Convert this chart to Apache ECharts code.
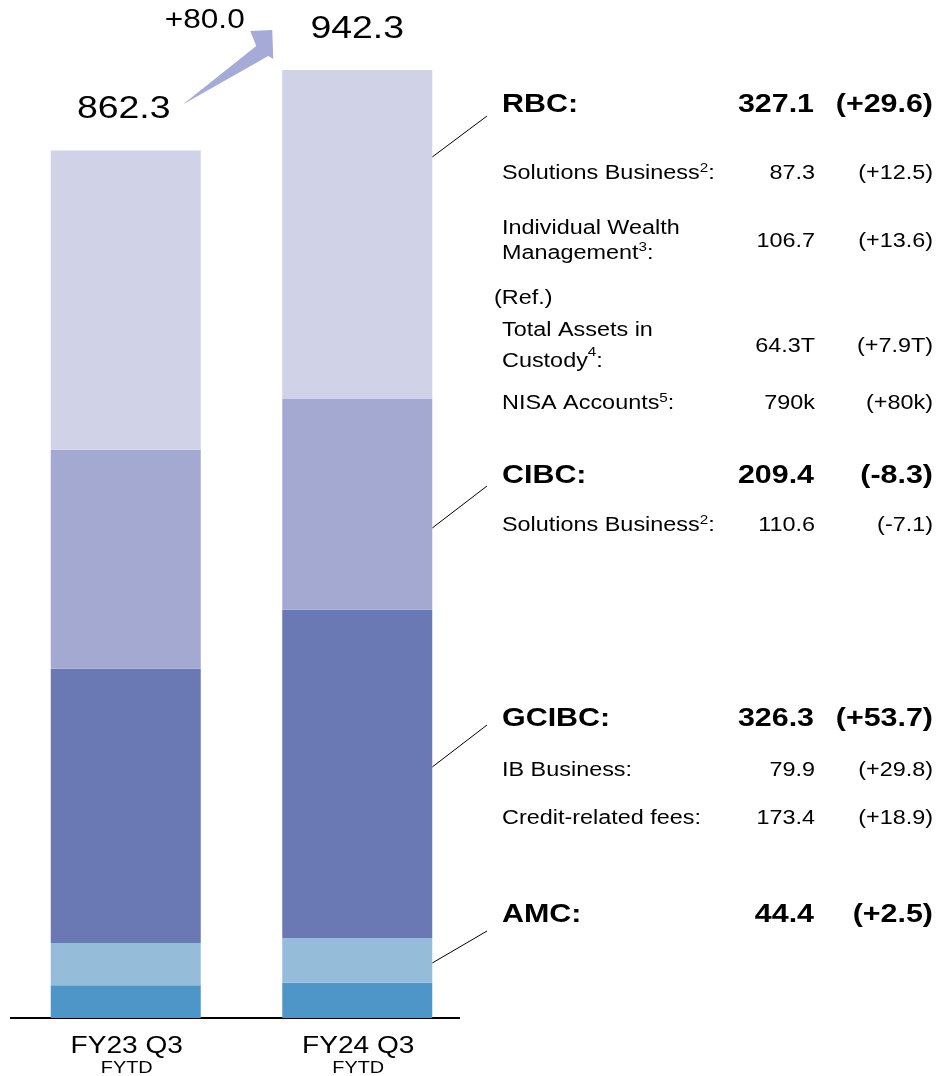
<!DOCTYPE html>
<html><head><meta charset="utf-8">
<script src="https://cdn.jsdelivr.net/npm/echarts@6/dist/echarts.min.js"></script>
<style>html,body{margin:0;padding:0;background:#fff}#c{width:936px;height:1076px}</style>
</head><body><div id="c"></div>
<script>
// ---- data ----
const categories = ['FY23 Q3', 'FY24 Q3'];
const categorySub = ['FYTD', 'FYTD'];
const otherVals = [32.6, 35.1];
const amcVals = [41.9, 44.4];
const gcibcVals = [272.6, 326.3];
const cibcVals = [217.7, 209.4];
const rbcVals = [297.5, 327.1];
const totals = [862.3, 942.3];
const totalChange = '+80.0';

const segNames = ['RBC:', 'CIBC:', 'GCIBC:', 'AMC:'];
const segValues = ['327.1', '209.4', '326.3', '44.4'];
const segDeltas = ['(+29.6)', '(-8.3)', '(+53.7)', '(+2.5)'];

const detailLabels = ['Solutions Business{sup|2}:', 'Individual Wealth\nManagement{sup|3}:', '(Ref.)',
  'Total Assets in\nCustody{sup|4}:', 'NISA Accounts{sup|5}:', 'Solutions Business{sup|2}:',
  'IB Business:', 'Credit-related fees:'];
const detailValues = ['87.3', '106.7', '', '64.3T', '790k', '110.6', '79.9', '173.4'];
const detailDeltas = ['(+12.5)', '(+13.6)', '', '(+7.9T)', '(+80k)', '(-7.1)', '(+29.8)', '(+18.9)'];

// ---- styling / layout ----
const FF = '"Liberation Sans", Arial, Helvetica, sans-serif';
const SX = 1.17;
const colors = { other: '#4F96C8', amc: '#95BCD9', gcibc: '#6A78B4', cibc: '#A4A9D2', rbc: '#D0D2E8' };

const chart = echarts.init(document.getElementById('c'), null, { renderer: 'canvas' });

function bar(name, data, color) {
  return {
    name, type: 'bar', stack: 'total', data, barWidth: 150, silent: true,
    itemStyle: { color }, emphasis: { disabled: true }
  };
}

chart.setOption({
  animation: false,
  backgroundColor: '#fff',
  grid: { left: 10, right: 463, top: 12, bottom: 58 },
  xAxis: { type: 'category', data: categories, axisLine: { show: false }, axisTick: { show: false }, axisLabel: { show: false } },
  yAxis: { type: 'value', min: 0, max: 1000, show: false, splitLine: { show: false } },
  series: [
    bar('Other', otherVals, colors.other),
    bar('AMC', amcVals, colors.amc),
    bar('GCIBC', gcibcVals, colors.gcibc),
    bar('CIBC', cibcVals, colors.cibc),
    bar('RBC', rbcVals, colors.rbc)
  ]
});

function txt(x, y, text, size, o) {
  o = o || {};
  return {
    type: 'text', x, y, scaleX: SX, silent: true,
    style: {
      text, fontFamily: FF, fontSize: size, fontWeight: o.bold ? 'bold' : 'normal', fill: '#000',
      align: o.align || 'left', verticalAlign: 'middle',
      textAlign: o.align || 'left', textVerticalAlign: 'middle',
      lineHeight: o.lh || Math.round(size * 1.15),
      rich: { sup: { fontFamily: FF, fontSize: 13, lineHeight: 14, verticalAlign: 'top', fill: '#000' } }
    }
  };
}

const g = [];
const p0 = chart.convertToPixel({ gridIndex: 0 }, [0, totals[0]]);
const p1 = chart.convertToPixel({ gridIndex: 0 }, [1, totals[1]]);
const base = chart.convertToPixel({ gridIndex: 0 }, [0, 0]);

// baseline
g.push({ type: 'line', silent: true, shape: { x1: 10, y1: base[1], x2: 460, y2: base[1] }, style: { stroke: '#000', lineWidth: 2 } });

// category labels
categories.forEach((c, i) => {
  const p = chart.convertToPixel({ gridIndex: 0 }, [i, 0]);
  g.push(txt(p[0] + 1, p[1] + 28, c, 24, { align: 'center' }));
  g.push(txt(p[0] + 1, p[1] + 50, categorySub[i], 17, { align: 'center' }));
});

// totals
g.push(txt(p0[0] - 2, p0[1] - 41, totals[0].toFixed(1), 32, { align: 'center' }));
g.push(txt(p1[0], p1[1] - 41, totals[1].toFixed(1), 32, { align: 'center' }));
g.push(txt(p0[0] + 79, p1[1] - 49, totalChange, 27, { align: 'center' }));

// arrow
g.push({
  type: 'polygon', silent: true,
  shape: { points: [
    [p0[0] + 57, p0[1] - 46],
    [p1[0] - 101, p1[1] - 24],
    [p1[0] - 107, p1[1] - 39],
    [p1[0] - 85, p1[1] - 40],
    [p1[0] - 84, p1[1] - 11],
    [p1[0] - 89, p1[1] - 14]
  ] },
  style: { fill: '#A6AAD6' }
});

// leader lines
const barRight = p1[0] + 75;
const leaders = [[157, 116], [528, 486], [767, 725], [963, 931]];
leaders.forEach(l => g.push({ type: 'line', silent: true, shape: { x1: barRight, y1: l[0], x2: 487, y2: l[1] }, style: { stroke: '#000', lineWidth: 1 } }));

// right panel headers
const headerY = [105, 476, 719, 915];
segNames.forEach((n, i) => {
  g.push(txt(502, headerY[i], n, 26, { bold: true }));
  g.push(txt(814, headerY[i], segValues[i], 26, { bold: true, align: 'right' }));
  g.push(txt(933, headerY[i], segDeltas[i], 26, { bold: true, align: 'right' }));
});

// detail rows
const detailY = [173, 241, 298, 346, 403, 525, 770, 818];
const detailX = [502, 502, 494, 502, 502, 502, 502, 502];
const detailLH = [23, 25, 23, 31, 23, 23, 23, 23];
detailLabels.forEach((l, i) => {
  g.push(txt(detailX[i], detailY[i], l, 20, { lh: detailLH[i] }));
  if (detailValues[i]) g.push(txt(815, detailY[i], detailValues[i], 20, { align: 'right' }));
  if (detailDeltas[i]) g.push(txt(933, detailY[i], detailDeltas[i], 20, { align: 'right' }));
});

chart.setOption({ graphic: { elements: g } });
</script>
</body></html>
